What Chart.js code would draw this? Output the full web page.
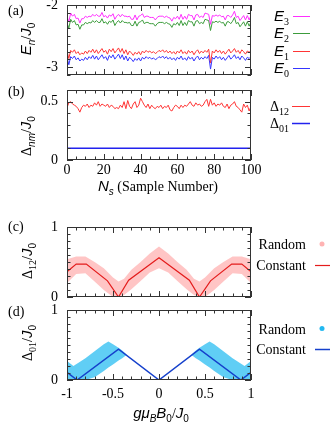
<!DOCTYPE html>
<html>
<head>
<meta charset="utf-8">
<script src="https://cdn.jsdelivr.net/npm/chart.js@4.4.0/dist/chart.umd.min.js"></script>
<style>
  html, body { margin: 0; padding: 0; background: #fff; }
  #wrap { position: relative; width: 334px; height: 432px; overflow: hidden; }
  #wrap canvas { position: absolute; left: 0; top: 0; }
</style>
</head>
<body>
<div id="wrap">
  <canvas id="chA" width="334" height="432"></canvas>
  <canvas id="chB" width="334" height="432"></canvas>
  <canvas id="chC" width="334" height="432"></canvas>
  <canvas id="chD" width="334" height="432"></canvas>
</div>
<script>
// ---- Daten (a) + (b): Energien und Gaps pro Sample ----
const samples = Array.from({ length: 101 }, (_, i) => i);

const e3 = [-2.19,-2.27,-2.13,-2.18,-2.15,-2.22,-2.21,-2.29,-2.22,-2.22,
  -2.18,-2.20,-2.18,-2.19,-2.15,-2.18,-2.15,-2.18,-2.18,-2.12,
  -2.19,-2.17,-2.21,-2.16,-2.18,-2.14,-2.23,-2.18,-2.15,-2.19,
  -2.15,-2.18,-2.18,-2.19,-2.18,-2.23,-2.23,-2.16,-2.24,-2.18,
  -2.17,-2.14,-2.20,-2.18,-2.18,-2.20,-2.20,-2.20,-2.24,-2.20,
  -2.18,-2.18,-2.18,-2.20,-2.18,-2.20,-2.21,-2.26,-2.20,-2.22,
  -2.18,-2.23,-2.15,-2.23,-2.18,-2.23,-2.15,-2.17,-2.17,-2.24,
  -2.16,-2.15,-2.20,-2.18,-2.20,-2.13,-2.14,-2.15,-2.31,-2.17,
  -2.18,-2.16,-2.18,-2.16,-2.19,-2.18,-2.24,-2.17,-2.17,-2.20,
  -2.16,-2.10,-2.20,-2.18,-2.25,-2.21,-2.17,-2.24,-2.17,-2.24,-2.17];

const e2 = [-2.29,-2.37,-2.23,-2.28,-2.25,-2.32,-2.31,-2.39,-2.32,-2.32,
  -2.28,-2.30,-2.28,-2.29,-2.25,-2.28,-2.25,-2.28,-2.28,-2.22,
  -2.29,-2.27,-2.31,-2.26,-2.28,-2.24,-2.33,-2.28,-2.25,-2.29,
  -2.25,-2.28,-2.28,-2.29,-2.28,-2.33,-2.33,-2.26,-2.34,-2.28,
  -2.27,-2.24,-2.30,-2.28,-2.28,-2.30,-2.30,-2.30,-2.34,-2.30,
  -2.28,-2.28,-2.28,-2.30,-2.28,-2.30,-2.31,-2.36,-2.30,-2.32,
  -2.28,-2.33,-2.25,-2.33,-2.28,-2.33,-2.25,-2.27,-2.27,-2.34,
  -2.26,-2.25,-2.30,-2.28,-2.30,-2.23,-2.24,-2.25,-2.41,-2.27,
  -2.28,-2.26,-2.28,-2.26,-2.29,-2.28,-2.34,-2.27,-2.27,-2.30,
  -2.26,-2.20,-2.30,-2.28,-2.35,-2.31,-2.27,-2.34,-2.27,-2.34,-2.27];

const e1 = [-2.74,-2.86,-2.73,-2.76,-2.72,-2.78,-2.75,-2.80,-2.77,-2.79,
  -2.74,-2.78,-2.73,-2.76,-2.71,-2.77,-2.72,-2.78,-2.74,-2.70,
  -2.76,-2.73,-2.79,-2.71,-2.75,-2.70,-2.77,-2.73,-2.69,-2.76,
  -2.70,-2.78,-2.72,-2.80,-2.74,-2.77,-2.81,-2.76,-2.79,-2.75,
  -2.80,-2.74,-2.77,-2.73,-2.76,-2.74,-2.77,-2.75,-2.78,-2.76,
  -2.73,-2.75,-2.72,-2.76,-2.73,-2.77,-2.74,-2.78,-2.75,-2.79,
  -2.74,-2.77,-2.72,-2.78,-2.75,-2.79,-2.73,-2.77,-2.74,-2.80,
  -2.75,-2.72,-2.78,-2.74,-2.77,-2.73,-2.76,-2.71,-2.93,-2.74,
  -2.77,-2.72,-2.76,-2.73,-2.78,-2.74,-2.79,-2.75,-2.71,-2.77,
  -2.74,-2.70,-2.76,-2.73,-2.78,-2.72,-2.75,-2.79,-2.74,-2.76,-2.73];

const e0 = [-2.84,-2.96,-2.83,-2.86,-2.82,-2.88,-2.85,-2.90,-2.87,-2.89,
  -2.84,-2.88,-2.83,-2.86,-2.81,-2.87,-2.82,-2.88,-2.84,-2.80,
  -2.86,-2.83,-2.89,-2.81,-2.85,-2.80,-2.87,-2.83,-2.79,-2.86,
  -2.80,-2.88,-2.82,-2.90,-2.84,-2.87,-2.91,-2.86,-2.89,-2.85,
  -2.90,-2.84,-2.87,-2.83,-2.86,-2.84,-2.87,-2.85,-2.88,-2.86,
  -2.83,-2.85,-2.82,-2.86,-2.83,-2.87,-2.84,-2.88,-2.85,-2.89,
  -2.84,-2.87,-2.82,-2.88,-2.85,-2.89,-2.83,-2.87,-2.84,-2.90,
  -2.85,-2.82,-2.88,-2.84,-2.87,-2.83,-2.86,-2.81,-3.03,-2.84,
  -2.87,-2.82,-2.86,-2.83,-2.88,-2.84,-2.89,-2.85,-2.81,-2.87,
  -2.84,-2.80,-2.86,-2.83,-2.88,-2.82,-2.85,-2.89,-2.84,-2.86,-2.83];

const delta12 = [0.45,0.49,0.50,0.48,0.47,0.46,0.44,0.41,0.45,0.47,
  0.46,0.48,0.45,0.47,0.46,0.49,0.47,0.50,0.46,0.48,
  0.47,0.46,0.48,0.45,0.47,0.46,0.44,0.45,0.44,0.47,
  0.45,0.50,0.44,0.51,0.46,0.44,0.48,0.50,0.45,0.47,
  0.53,0.50,0.47,0.45,0.48,0.44,0.47,0.45,0.44,0.46,
  0.45,0.47,0.44,0.46,0.45,0.47,0.43,0.42,0.45,0.47,
  0.46,0.44,0.47,0.45,0.47,0.46,0.48,0.50,0.47,0.46,
  0.49,0.47,0.48,0.46,0.47,0.50,0.52,0.46,0.52,0.47,
  0.49,0.46,0.48,0.47,0.49,0.46,0.45,0.48,0.44,0.47,
  0.48,0.50,0.46,0.45,0.43,0.41,0.48,0.45,0.47,0.42,0.46];

// Delta01 ist konstant
const delta01X = [0, 100];
const delta01 = [0.10, 0.10];

// ---- Daten (c): Delta12 gegen Feld ----
const fieldC = [-1, -0.9, -0.79, -0.56, -0.44, -0.33, 0, 0.33, 0.44, 0.56, 0.79, 0.9, 1];
const constC = [0.36, 0.47, 0.47, 0.23, 0.0, 0.24, 0.56, 0.24, 0.0, 0.23, 0.47, 0.47, 0.36];
const bandCX = [-1, -0.9, -0.8, -0.7, -0.6, -0.5, -0.44, -0.38, -0.3, -0.2, -0.1, 0,
  0.1, 0.2, 0.3, 0.38, 0.44, 0.5, 0.6, 0.7, 0.8, 0.9, 1];
const bandCHi = [0.54, 0.58, 0.58, 0.50, 0.41, 0.28, 0.22, 0.26, 0.39, 0.50, 0.62, 0.72,
  0.62, 0.50, 0.39, 0.26, 0.22, 0.28, 0.41, 0.50, 0.58, 0.58, 0.54];
const bandCLo = [0.20, 0.33, 0.34, 0.22, 0.10, 0.00, 0.00, 0.03, 0.11, 0.23, 0.35, 0.41,
  0.35, 0.23, 0.11, 0.03, 0.00, 0.00, 0.10, 0.22, 0.34, 0.33, 0.20];

// ---- Daten (d): Delta01 gegen Feld ----
const fieldD = [-1, -0.89, -0.44, 0, 0.44, 0.89, 1];
const constD = [0.11, 0.0, 0.44, 0.0, 0.44, 0.0, 0.11];
const bandDLeftX = [-1, -0.93, -0.8, -0.7, -0.6, -0.55, -0.5, -0.44, -0.4, -0.35];
const bandDLeftHi = [0.27, 0.20, 0.31, 0.41, 0.51, 0.55, 0.51, 0.46, 0.42, 0.36];
const bandDLeftLo = [0.00, 0.00, 0.00, 0.04, 0.13, 0.18, 0.22, 0.28, 0.31, 0.36];
const bandDRightX = [0.35, 0.4, 0.44, 0.5, 0.55, 0.6, 0.7, 0.8, 0.93, 1];
const bandDRightHi = [0.36, 0.42, 0.46, 0.51, 0.55, 0.51, 0.41, 0.31, 0.20, 0.27];
const bandDRightLo = [0.36, 0.31, 0.28, 0.22, 0.18, 0.13, 0.04, 0.00, 0.00, 0.00];

// Tick-Beschriftungen
const ticksAy = [-3, -2];
const ticksBy = [0, 0.5];
const ticksBx = [0, 20, 40, 60, 80, 100];
const ticksCDy = [0, 1];
const ticksDx = [-1, -0.5, 0, 0.5, 1];

Chart.defaults.font.family = '"Liberation Serif", "Times New Roman", serif';
Chart.defaults.font.size = 14;
Chart.defaults.color = '#000';

const pts = (xs, ys) => xs.map((x, i) => ({ x: x, y: ys[i] }));

// Text mit Tiefstellung (gnuplot enhanced text nachbauen)
const F = {
  r: '14px "Liberation Serif"',
  i: 'italic 15px "Liberation Sans"',
  sr: '10px "Liberation Serif"',
  si: 'italic 10px "Liberation Sans"',
  ss: '10px "Liberation Sans"'
};
function rich(ctx, parts, x, y, align) {
  let w = 0;
  parts.forEach(p => { ctx.font = F[p[1]]; w += ctx.measureText(p[0]).width; });
  let cx = align === 'right' ? x - w : align === 'center' ? x - w / 2 : x;
  ctx.textAlign = 'left';
  ctx.textBaseline = 'alphabetic';
  ctx.fillStyle = '#000';
  parts.forEach(p => {
    ctx.font = F[p[1]];
    const sub = p[1][0] === 's';
    ctx.fillText(p[0], cx, y + 5 + (sub ? 4 : 0));
    cx += ctx.measureText(p[0]).width;
  });
}
function richUp(ctx, parts, x, y) {
  ctx.save();
  ctx.translate(x, y);
  ctx.rotate(-Math.PI / 2);
  rich(ctx, parts, 0, 0, 'center');
  ctx.restore();
}
function keyLine(ctx, x1, x2, y, color, w) {
  ctx.save();
  ctx.strokeStyle = color;
  ctx.lineWidth = w || 1;
  ctx.beginPath();
  ctx.moveTo(x1, Math.round(y) + 0.5);
  ctx.lineTo(x2, Math.round(y) + 0.5);
  ctx.stroke();
  ctx.restore();
}

// Rahmen mit Ticks nach innen (auch gespiegelt)
const framePlugin = {
  id: 'frame',
  afterDatasetsDraw(chart, args, o) {
    const ctx = chart.ctx, a = chart.chartArea;
    const xs = chart.scales.x, ys = chart.scales.y;
    const major = (v, m) => Math.abs(v / m - Math.round(v / m)) < 1e-6;
    ctx.save();
    ctx.strokeStyle = '#333';
    ctx.lineWidth = 1;
    ctx.beginPath();
    const nx = Math.round((o.xMax - o.xMin) / o.xStep);
    for (let k = 0; k <= nx; k++) {
      const v = o.xMin + k * o.xStep;
      const px = Math.round(xs.getPixelForValue(v)) + 0.5;
      const len = major(v, o.xMajor) ? 6 : 3.5;
      ctx.moveTo(px, a.bottom); ctx.lineTo(px, a.bottom - len);
      ctx.moveTo(px, a.top); ctx.lineTo(px, a.top + len);
    }
    const ny = Math.round((o.yMax - o.yMin) / o.yStep);
    for (let k = 0; k <= ny; k++) {
      const v = o.yMin + k * o.yStep;
      const py = Math.round(ys.getPixelForValue(v)) + 0.5;
      const len = major(v, o.yMajor) ? 6 : 3.5;
      ctx.moveTo(a.left, py); ctx.lineTo(a.left + len, py);
      ctx.moveTo(a.right, py); ctx.lineTo(a.right - len, py);
    }
    ctx.stroke();
    ctx.strokeRect(a.left + 0.5, a.top + 0.5, a.right - a.left - 1, a.bottom - a.top - 1);
    ctx.restore();
  }
};

function decor(fn) {
  return { id: 'decor', afterDraw(chart) { fn(chart.ctx, chart); } };
}

function makeOptions(c) {
  return {
    responsive: false,
    animation: false,
    devicePixelRatio: 1,
    events: [],
    layout: { padding: { left: 0, right: 83, top: c.top, bottom: c.bottom } },
    plugins: { legend: { display: false }, tooltip: { enabled: false }, frame: c.frame },
    elements: { point: { radius: 0 }, line: { tension: 0, borderWidth: 1 } },
    scales: {
      x: {
        type: 'linear', min: c.xMin, max: c.xMax,
        grid: { display: false, drawTicks: false }, border: { display: false },
        ticks: { display: !!c.xLabels, padding: c.xPad || 0, autoSkip: false, maxRotation: 0,
                 callback: v => String(v) },
        afterBuildTicks: s => { s.ticks = (c.xLabels || []).map(v => ({ value: v })); },
        afterFit: s => { s.height = c.xH; s.paddingLeft = 0; s.paddingRight = 0; }
      },
      y: {
        type: 'linear', min: c.yMin, max: c.yMax,
        grid: { display: false, drawTicks: false }, border: { display: false },
        ticks: { padding: 9, autoSkip: false, callback: v => String(v) },
        afterBuildTicks: s => { s.ticks = c.yLabels.map(v => ({ value: v })); },
        afterFit: s => { s.width = 67; s.paddingTop = 0; s.paddingBottom = 0; }
      }
    }
  };
}

// ---------- (a) ----------
new Chart(document.getElementById('chA'), {
  type: 'line',
  data: { datasets: [
    { data: pts(samples, e3), borderColor: '#ff30ff' },
    { data: pts(samples, e2), borderColor: '#3c9c3c' },
    { data: pts(samples, e1), borderColor: '#ff3535' },
    { data: pts(samples, e0), borderColor: '#3535ff' }
  ] },
  options: makeOptions({ top: 5, bottom: 357, xH: 0, xMin: 0, xMax: 100,
    yMin: -3.125, yMax: -2, yLabels: ticksAy,
    frame: { xMin: 0, xMax: 100, xStep: 5, xMajor: 20, yMin: -3.125, yMax: -2, yStep: 0.125, yMajor: 1 } }),
  plugins: [framePlugin, decor(ctx => {
    rich(ctx, [['(a)', 'r']], 8, 10, 'left');
    richUp(ctx, [['E', 'i'], ['n', 'si'], ['/', 'r'], ['J', 'i'], ['0', 'ss']], 26, 39);
    const rows = [['3', '#ff30ff', 15.7], ['2', '#3c9c3c', 33.3], ['1', '#ff3535', 50.7], ['0', '#3535ff', 68.3]];
    rows.forEach(r => {
      rich(ctx, [['E', 'i'], [r[0], 'sr']], 289, r[2], 'right');
      keyLine(ctx, 293, 310, r[2], r[1]);
    });
  })]
});

// ---------- (b) ----------
new Chart(document.getElementById('chB'), {
  type: 'line',
  data: { datasets: [
    { data: pts(samples, delta12), borderColor: '#ff3535' },
    { data: pts(delta01X, delta01), borderColor: '#2222ee', borderWidth: 1.5 }
  ] },
  options: makeOptions({ top: 90, bottom: 232, xH: 40, xMin: 0, xMax: 100, xLabels: ticksBx, xPad: 2,
    yMin: 0, yMax: 0.6, yLabels: ticksBy,
    frame: { xMin: 0, xMax: 100, xStep: 5, xMajor: 20, yMin: 0, yMax: 0.6, yStep: 0.1, yMajor: 0.5 } }),
  plugins: [framePlugin, decor(ctx => {
    rich(ctx, [['(b)', 'r']], 8, 91, 'left');
    richUp(ctx, [['Δ', 'r'], ['nm', 'si'], ['/', 'r'], ['J', 'i'], ['0', 'ss']], 26, 136);
    rich(ctx, [['N', 'i'], ['s', 'si'], [' (Sample Number)', 'r']], 158, 186, 'center');
    rich(ctx, [['Δ', 'r'], ['12', 'sr']], 289, 106, 'right');
    keyLine(ctx, 292, 310, 106, '#ff3535');
    rich(ctx, [['Δ', 'r'], ['01', 'sr']], 289, 122.5, 'right');
    keyLine(ctx, 292, 310, 122.5, '#2222ee', 1.5);
  })]
});

// ---------- (c) ----------
new Chart(document.getElementById('chC'), {
  type: 'line',
  data: { datasets: [
    { data: pts(fieldC, constC), borderColor: '#e41c1c', borderWidth: 1.2 },
    { data: pts(bandCX, bandCHi), borderWidth: 0, borderColor: 'rgba(0,0,0,0)', fill: false },
    { data: pts(bandCX, bandCLo), borderWidth: 0, borderColor: 'rgba(0,0,0,0)', fill: '-1',
      backgroundColor: 'rgba(255,150,150,0.55)' }
  ] },
  options: makeOptions({ top: 227, bottom: 135, xH: 0, xMin: -1, xMax: 1,
    yMin: 0, yMax: 1, yLabels: ticksCDy,
    frame: { xMin: -1, xMax: 1, xStep: 0.1, xMajor: 0.5, yMin: 0, yMax: 1, yStep: 0.1, yMajor: 1 } }),
  plugins: [framePlugin, decor(ctx => {
    rich(ctx, [['(c)', 'r']], 8, 226, 'left');
    richUp(ctx, [['Δ', 'r'], ['12', 'sr'], ['/', 'r'], ['J', 'i'], ['0', 'ss']], 27, 261);
    rich(ctx, [['Random', 'r']], 306, 244, 'right');
    ctx.fillStyle = '#ffb3b3';
    ctx.beginPath(); ctx.arc(322, 244, 2.5, 0, Math.PI * 2); ctx.fill();
    rich(ctx, [['Constant', 'r']], 306, 265, 'right');
    keyLine(ctx, 315, 330, 265, '#e41c1c', 1.2);
  })]
});

// ---------- (d) ----------
new Chart(document.getElementById('chD'), {
  type: 'line',
  data: { datasets: [
    { data: pts(fieldD, constD), borderColor: '#1540cc', borderWidth: 1.5 },
    { data: pts(bandDLeftX, bandDLeftHi), borderWidth: 0, borderColor: 'rgba(0,0,0,0)', fill: false },
    { data: pts(bandDLeftX, bandDLeftLo), borderWidth: 0, borderColor: 'rgba(0,0,0,0)', fill: '-1',
      backgroundColor: 'rgba(10,180,240,0.65)' },
    { data: pts(bandDRightX, bandDRightHi), borderWidth: 0, borderColor: 'rgba(0,0,0,0)', fill: false },
    { data: pts(bandDRightX, bandDRightLo), borderWidth: 0, borderColor: 'rgba(0,0,0,0)', fill: '-1',
      backgroundColor: 'rgba(10,180,240,0.65)' }
  ] },
  options: makeOptions({ top: 310, bottom: 12, xH: 40, xMin: -1, xMax: 1, xLabels: ticksDx, xPad: 6,
    yMin: 0, yMax: 1, yLabels: ticksCDy,
    frame: { xMin: -1, xMax: 1, xStep: 0.1, xMajor: 0.5, yMin: 0, yMax: 1, yStep: 0.1, yMajor: 1 } }),
  plugins: [framePlugin, decor(ctx => {
    rich(ctx, [['(d)', 'r']], 8, 311, 'left');
    richUp(ctx, [['Δ', 'r'], ['01', 'sr'], ['/', 'r'], ['J', 'i'], ['0', 'ss']], 27, 343);
    rich(ctx, [['g', 'i'], ['μ', 'i'], ['B', 'si'], ['B', 'i'], ['0', 'ss'], ['/', 'r'], ['J', 'i'], ['0', 'ss']], 161, 413, 'center');
    rich(ctx, [['Random', 'r']], 306, 328.5, 'right');
    ctx.fillStyle = '#22b8f0';
    ctx.beginPath(); ctx.arc(322, 328.5, 2.5, 0, Math.PI * 2); ctx.fill();
    rich(ctx, [['Constant', 'r']], 306, 349, 'right');
    keyLine(ctx, 315, 330, 349, '#1540cc', 1.5);
  })]
});
</script>
</body>
</html>
